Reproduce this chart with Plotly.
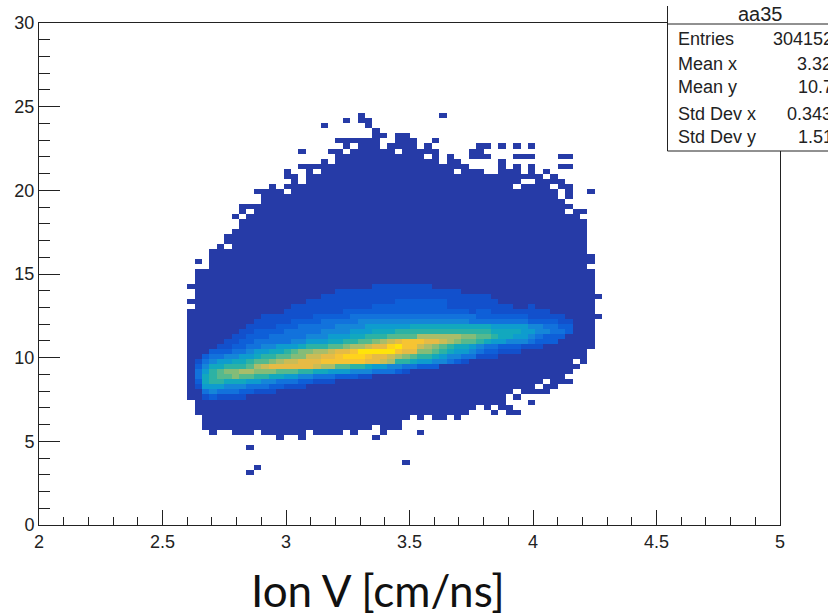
import plotly.graph_objects as go

# Histogram binning: 100 x 100 bins over x 2..5, y 0..30
x_start, x_bin = 2.0, 0.03
y_start, y_bin = 0.0, 0.3
n_bins = 100

# Occupied bins per y-bin: inclusive [first, last] x-bin spans
occupied = {
    81: [[43, 43], [54, 54]],
    80: [[41, 41], [43, 44]],
    79: [[38, 38], [44, 44]],
    78: [[45, 45]],
    77: [[45, 46], [48, 49]],
    76: [[40, 45], [48, 50], [53, 53]],
    75: [[41, 41], [43, 45], [47, 50], [52, 52], [59, 60], [62, 62], [64, 64], [66, 66]],
    74: [[35, 35], [39, 40], [42, 47], [49, 53], [58, 59]],
    73: [[40, 51], [53, 53], [55, 55], [58, 60], [64, 66], [70, 71]],
    72: [[38, 38], [40, 53], [55, 56], [62, 62]],
    71: [[35, 57], [62, 62], [64, 64], [66, 66], [70, 71]],
    70: [[33, 33], [36, 36], [38, 55], [57, 59], [62, 64], [66, 66], [68, 68]],
    69: [[33, 34], [36, 67], [69, 69]],
    68: [[34, 34], [36, 64], [67, 70]],
    67: [[31, 31], [33, 63], [65, 68], [70, 71]],
    66: [[29, 32], [34, 69], [71, 71], [74, 74]],
    65: [[30, 69], [71, 71]],
    64: [[30, 70]],
    63: [[27, 71]],
    62: [[27, 27], [29, 70], [72, 73]],
    61: [[26, 26], [28, 72]],
    60: [[27, 73]],
    59: [[27, 73]],
    58: [[26, 73]],
    57: [[25, 73]],
    56: [[25, 73]],
    55: [[24, 24], [26, 73]],
    54: [[23, 73]],
    53: [[23, 74]],
    52: [[21, 21], [23, 74]],
    51: [[23, 73]],
    50: [[21, 74]],
    49: [[21, 74]],
    48: [[21, 74]],
    47: [[20, 74]],
    46: [[21, 74]],
    45: [[21, 75]],
    44: [[20, 74]],
    43: [[21, 74]],
    42: [[20, 74]],
    41: [[20, 75]],
    40: [[20, 74]],
    39: [[20, 74]],
    38: [[20, 74]],
    37: [[20, 74]],
    36: [[20, 74]],
    35: [[20, 74]],
    34: [[20, 73]],
    33: [[20, 73]],
    32: [[20, 71], [73, 73]],
    31: [[20, 72]],
    30: [[20, 71]],
    29: [[20, 70]],
    28: [[20, 67], [69, 71]],
    27: [[20, 66], [68, 69]],
    26: [[20, 63], [65, 68]],
    25: [[20, 62], [64, 64]],
    24: [[21, 62], [66, 66]],
    23: [[21, 58], [60, 60], [62, 63]],
    22: [[21, 57], [61, 61], [63, 64]],
    21: [[22, 49], [51, 51], [53, 54], [56, 56]],
    20: [[22, 48]],
    19: [[22, 44], [46, 48]],
    18: [[23, 23], [26, 28], [30, 35], [37, 40], [42, 42], [46, 46], [51, 51]],
    17: [[32, 32], [35, 35], [45, 45]],
    15: [[28, 28]],
    12: [[49, 49]],
    11: [[29, 29]],
    10: [[28, 28]],
}

# Density levels (hex digit) of the bright core: y-bin -> (first x-bin, digits)
core_start = {
    25: 22, 26: 22, 27: 21, 28: 21, 29: 21, 30: 21, 31: 21, 32: 21, 33: 22, 34: 23,
    35: 24, 36: 25, 37: 26, 38: 27, 39: 28, 40: 29, 41: 30, 42: 33, 43: 34, 44: 36,
    45: 38, 46: 40, 47: 45,
}
core_levels = {
    25: "121111",
    26: "3433322111",
    27: "155544433322111",
    28: "2677666554433322111",
    29: "367889887766554433322211",
    30: "35789" "9aa99" "98887" "76655" "54443" "3321",
    31: "24667" "778ab" "ccccc" "cbaa8" "87765" "54433" "222",
    32: "13455" "66788" "9abbc" "ccddd" "dddcc" "ba776" "55443" "21",
    33: "23344" "55677" "8899b" "bccde" "eedcc" "ba987" "76544" "33111",
    34: "22233" "45566" "7899a" "abccd" "fffff" "dcc99" "87655" "43221" "11",
    35: "11223" "34455" "56777" "889aa" "bccef" "ddba9" "87665" "43322" "2111",
    36: "11223" "33334" "45556" "67788" "9abcd" "ddccb" "a9887" "65544" "43222",
    37: "11222" "33333" "44455" "56677" "78888" "aaaaaa" "99887" "66554" "3222",
    38: "112222" "33333" "4444" "555" "666" "7777777777777" "6666" "55" "44" "33" "2",
    39: "1111" "222" "33333" "4444" "5555" "55" "66666666666" "55555" "44" "33" "22",
    40: "11111" "2222" "33333" "44444" "4444444444" "33333333" "2222" "11",
    41: "1111111" "22222" "333333" "33333333333" "2222222" "11111",
    42: "11111111" "2222222" "2222222222" "1" "22" "11111111",
    43: "11111111111" "222" "2222222" "111111111" "00" "1",
    44: "111111111111" "2222222" "1111111",
    45: "11111111111111111111111",
    46: "11111111111111111",
    47: "11111111",
}

level_colors = [
    "#263ba7", "#1250cc", "#0e5fd8", "#1272dc", "#1586d8", "#0e9cce", "#12a8be", "#2cb2a4",
    "#55b98e", "#84bc78", "#a9bd6a", "#cbbc55", "#e6bb45", "#f6c433", "#ffd31c", "#ffe40a",
]

x_major = [2, 2.5, 3, 3.5, 4, 4.5, 5]
x_labels = ["2", "2.5", "3", "3.5", "4", "4.5", "5"]
y_major = [0, 5, 10, 15, 20, 25, 30]
y_labels = ["0", "5", "10", "15", "20", "25", "30"]

stats_title = "aa35"
stats_names = ["Entries", "Mean x", "Mean y", "Std Dev x", "Std Dev y"]
stats_values = ["304152", "3.32", "10.7", "0.343", "1.51"]
x_title = "Ion V [cm/ns]"

# Build the histogram matrix
z = [[None] * n_bins for _ in range(n_bins)]
for row, spans in occupied.items():
    for first, last in spans:
        for col in range(first, last + 1):
            z[row][col] = 0
for row, digits in core_levels.items():
    start = core_start[row]
    for k, ch in enumerate(digits):
        if z[row][start + k] is not None:
            z[row][start + k] = int(ch, 16)

x_centers = [x_start + x_bin * (i + 0.5) for i in range(n_bins)]
y_centers = [y_start + y_bin * (i + 0.5) for i in range(n_bins)]
n = len(level_colors) - 1
scale = [[i / n, c] for i, c in enumerate(level_colors)]

W, H = 828, 616
L, R, T, B = 39, 48, 23, 91
pw, ph = W - L - R, H - T - B


def px(v):
    return (v - L) / pw


def py(v):
    return (H - B - v) / ph


FONT = "Liberation Sans"
INK = "#222222"

fig = go.Figure(
    go.Heatmap(x=x_centers, y=y_centers, z=z, colorscale=scale, zmin=0, zmax=n,
               showscale=False, hoverongaps=False)
)

fig.update_xaxes(
    range=[2, 5], tickmode="array", tickvals=x_major, ticktext=x_labels,
    ticks="inside", ticklen=15, tickwidth=1, tickcolor=INK,
    minor=dict(dtick=0.1, ticks="inside", ticklen=8, tickwidth=1, tickcolor=INK, showgrid=False),
    showline=True, linecolor=INK, linewidth=1, mirror=True, showgrid=False, zeroline=False,
    tickfont=dict(family=FONT, size=18, color=INK),
)
fig.update_yaxes(
    range=[0, 30], tickmode="array", tickvals=y_major, ticktext=y_labels,
    ticks="inside", ticklen=21, tickwidth=1, tickcolor=INK,
    minor=dict(dtick=1, ticks="inside", ticklen=11, tickwidth=1, tickcolor=INK, showgrid=False),
    showline=True, linecolor=INK, linewidth=1, mirror=True, showgrid=False, zeroline=False,
    tickfont=dict(family=FONT, size=18, color=INK),
)

shapes = [
    dict(type="rect", xref="paper", yref="paper", x0=px(667.5), x1=px(900), y0=py(151), y1=py(-10),
         fillcolor="white", line=dict(width=0), layer="above"),
    dict(type="line", xref="paper", yref="paper", x0=px(667.5), x1=px(667.5), y0=py(151), y1=py(6),
         line=dict(color=INK, width=1), layer="above"),
    dict(type="line", xref="paper", yref="paper", x0=px(667.5), x1=px(900), y0=py(151), y1=py(151),
         line=dict(color=INK, width=1), layer="above"),
    dict(type="line", xref="paper", yref="paper", x0=px(667.5), x1=px(900), y0=py(24), y1=py(24),
         line=dict(color=INK, width=1), layer="above"),
]

annotations = [
    dict(xref="paper", yref="paper", x=px(760), y=py(14), text=stats_title, showarrow=False,
         xanchor="center", yanchor="middle", font=dict(family=FONT, size=20, color=INK)),
    dict(xref="paper", yref="paper", x=px(378), y=py(590), text=x_title, showarrow=False,
         xanchor="center", yanchor="middle", font=dict(family="Lato", size=44, color="#111111")),
]
row_y = [39, 64, 87, 114, 137]
value_x = [770.5, 795, 796, 785, 796]
for name, value, yy, vx in zip(stats_names, stats_values, row_y, value_x):
    annotations.append(dict(xref="paper", yref="paper", x=px(675.5), y=py(yy), text=name, showarrow=False,
                            xanchor="left", yanchor="middle", font=dict(family=FONT, size=18, color=INK)))
    annotations.append(dict(xref="paper", yref="paper", x=px(vx), y=py(yy), text=value, showarrow=False,
                            xanchor="left", yanchor="middle", font=dict(family=FONT, size=18, color=INK)))

fig.update_layout(
    width=W, height=H, margin=dict(l=L, r=R, t=T, b=B, pad=0),
    paper_bgcolor="white", plot_bgcolor="white",
    shapes=shapes, annotations=annotations, showlegend=False,
)
fig.write_html("out.html", config={"displayModeBar": False},
               post_script="document.body.style.margin='0';")
